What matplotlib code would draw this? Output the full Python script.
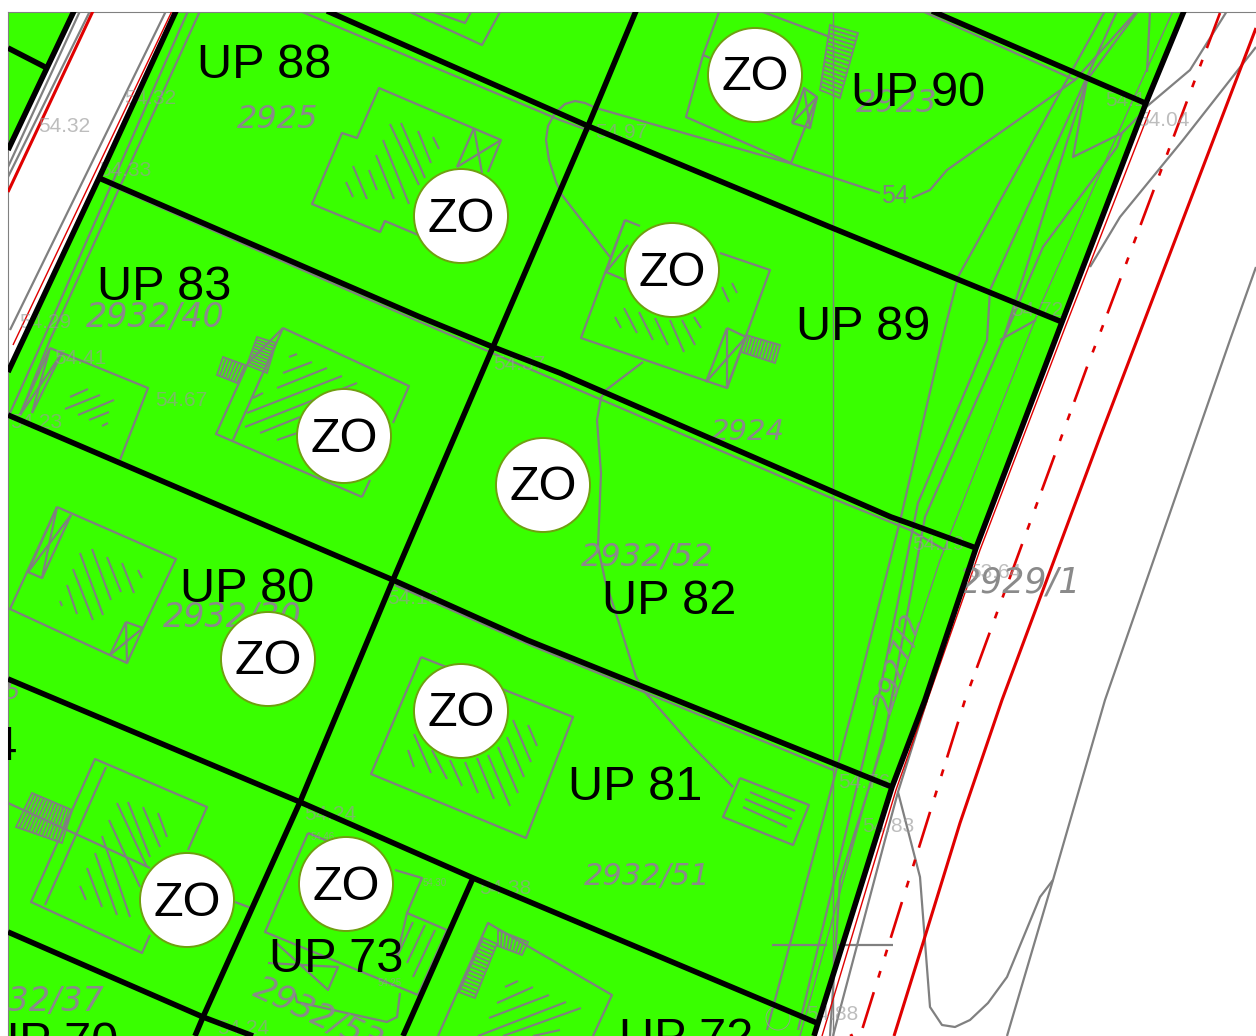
import matplotlib
matplotlib.use("Agg")
import matplotlib.pyplot as plt
from matplotlib.patches import Polygon, Circle

plt.rcParams['lines.scale_dashes'] = False
plt.rcParams['font.family'] = ['Liberation Sans', 'DejaVu Sans']

GREEN = '#39ff00'
RED = '#e00000'
GRAY = '#808080'

green_areas = [
    [(8, 12), (74, 12), (8, 147)],
    [(176, 12), (1184, 12), (1146, 103), (1062, 322), (976, 548), (925, 700), (892, 787), (818, 1023), (814, 1036), (8, 1036), (8, 372)],
]

black_lines = [
    [(74, 11), (8, 150)],
    [(8, 48), (45, 67)],
    [(176, 11), (99, 178), (8, 372)],
    [(1184, 11), (1146, 103), (1062, 322), (976, 548), (925, 700), (892, 787), (818, 1023), (814, 1036)],
    [(327, 11), (588, 126), (830, 227), (1062, 322)],
    [(932, 11), (1145, 103)],
    [(636, 11), (588, 126), (493, 347), (393, 580), (300, 802), (203, 1017), (195, 1036)],
    [(99, 178), (420, 317), (493, 347), (560, 373), (891, 517), (908, 523), (976, 548)],
    [(8, 415), (393, 580), (527, 640), (840, 766), (892, 787)],
    [(8, 679), (300, 802), (473, 878), (817, 1023)],
    [(473, 878), (403, 1036)],
    [(8, 932), (203, 1017), (253, 1036)],
]

red_thin = [
    [(172, 11), (13, 345)],
    [(1150, 110), (1066, 325), (980, 550), (896, 790), (822, 1036)],
]
red_solid = [
    [(93, 11), (8, 192)],
    [(1256, 28), (1137, 340), (1100, 437), (1002, 700), (960, 823), (923, 943), (894, 1036)],
]
red_dashdot = [(1220, 13), (1102, 328), (1087, 367), (965, 700), (862, 1030), (850, 1036)]

road_gray = [
    [(80, 11), (8, 167)],
    [(90, 11), (8, 177)],
    [(166, 11), (10, 330)],
    [(1227, 11), (1190, 70), (1145, 108)],
    [(1256, 47), (1183, 140), (1120, 217), (1090, 267)],
    [(1256, 267), (1230, 340), (1105, 700), (1053, 880), (1007, 1036)],
    [(898, 792), (920, 877), (930, 1007), (942, 1025), (955, 1027), (970, 1020), (988, 1003), (1007, 977), (1040, 897), (1053, 880)],
    [(927, 700), (898, 792), (885, 840), (833, 1036)],
    [(772, 945), (827, 945)],
    [(838, 945), (893, 945)],
]

contours = [
    [(1105, 11), (958, 277), (942, 340), (901, 517), (855, 700), (767, 1030)],
    [(1117, 11), (990, 290), (987, 340), (918, 503), (878, 700), (798, 1030)],
    [(1138, 11), (1087, 80), (1003, 340), (925, 517), (884, 740), (840, 880), (830, 1036)],
    [(1150, 11), (1147, 72)],
    [(1087, 80), (1073, 157), (1122, 133), (1117, 147), (1043, 247), (1003, 340)],
    [(1137, 11), (1075, 80), (947, 170), (930, 190), (912, 198)],
    [(1145, 110), (1122, 133)],
    [(596, 108), (789, 163), (880, 193)],
    [(610, 257), (562, 195), (556, 182), (549, 160), (546, 140), (548, 126), (555, 113), (565, 104), (575, 101), (585, 103), (596, 108)],
    [(643, 362), (606, 390), (601, 398), (597, 420), (601, 473), (598, 547), (605, 580), (618, 620), (636, 677), (643, 690), (693, 747), (733, 787)],
    [(300, 11), (560, 120), (590, 131)],
    [(922, 11), (1075, 80)],
    [(110, 185), (420, 322), (490, 352), (560, 382), (829, 497), (910, 530), (945, 550)],
    [(395, 585), (530, 645), (833, 770)],
    [(188, 11), (43, 340), (10, 413)],
    [(200, 11), (50, 340), (20, 415)],
    [(1036, 320), (1000, 340)],
]
thin_lines = [
    [(833, 12), (833, 1036)],
    [(1173, 11), (1043, 300), (940, 560), (885, 730), (800, 1036)],
]

buildings = [
    # UP 88
    [(385, 221), (380, 232), (312, 204), (342, 133), (357, 138), (379, 88), (501, 140), (488, 172)],
    [(380, 232), (385, 221), (430, 240)],
    [(474, 128), (457, 167)], [(457, 167), (501, 140)], [(474, 128), (482, 173)],
    # above UP 88
    [(410, 12), (482, 45), (500, 12)], [(434, 12), (465, 23), (471, 12)],
    # UP 90
    [(719, 12), (703, 55), (710, 58)], [(703, 55), (686, 117), (791, 163), (817, 97)],
    [(763, 12), (830, 37)], [(792, 123), (804, 88), (817, 97), (810, 128), (792, 123)],
    [(792, 123), (817, 97)], [(804, 88), (810, 128)],
    # UP 89
    [(625, 220), (605, 273), (581, 338), (727, 388), (770, 270), (720, 253)],
    [(625, 220), (640, 226)], [(606, 272), (625, 280)], [(625, 220), (606, 272)], [(606, 272), (628, 245)],
    [(727, 328), (706, 382)], [(727, 328), (746, 337), (727, 388)], [(727, 328), (727, 388)], [(706, 382), (746, 337)],
    # UP 83 left
    [(50, 348), (148, 388), (120, 460)], [(50, 348), (20, 415)], [(62, 353), (32, 413)],
    [(50, 348), (32, 413)], [(20, 415), (62, 353)],
    # UP 83
    [(283, 328), (409, 386), (393, 423)], [(362, 497), (216, 434), (248, 363), (283, 328)], [(283, 328), (233, 440)],
    [(362, 497), (370, 480)],
    # UP 80
    [(57, 507), (176, 559), (143, 628), (127, 663), (10, 609), (57, 507)],
    [(57, 507), (28, 572), (42, 578), (71, 515)], [(57, 507), (42, 578)], [(28, 572), (71, 515)],
    [(126, 622), (143, 628)], [(126, 622), (110, 655)], [(126, 622), (127, 663)], [(110, 655), (143, 628)],
    # UP 81
    [(421, 657), (573, 717), (526, 838), (371, 774), (421, 657)],
    [(740, 778), (809, 805), (793, 845), (723, 817), (740, 778)],
    # bottom-left
    [(188, 850), (207, 807), (95, 759), (31, 902), (142, 953), (150, 935)],
    [(106, 767), (45, 905)], [(8, 803), (150, 868)], [(235, 902), (251, 908)],
    # UP 73
    [(308, 833), (265, 932), (418, 995), (447, 930), (407, 913), (397, 957)],
    [(308, 833), (330, 842)], [(395, 870), (422, 878), (407, 913)],
    [(273, 940), (328, 990), (338, 967), (268, 963)],
    [(295, 993), (297, 1002), (387, 1022), (397, 1017), (400, 993)],
    # UP 72
    [(438, 1036), (488, 923), (612, 995), (593, 1036)],
]

hatching = [
    [(346, 182), (353, 197)], [(353, 166), (367, 199)], [(369, 170), (377, 190)], [(376, 155), (394, 199)],
    [(383, 140), (409, 204)], [(390, 124), (419, 185)], [(401, 123), (425, 178)], [(418, 131), (431, 163)], [(433, 137), (439, 149)],
    [(615, 317), (621, 328)], [(624, 308), (637, 333)], [(639, 312), (653, 340)], [(655, 318), (668, 345)],
    [(670, 320), (684, 352)], [(682, 320), (695, 345)], [(694, 317), (701, 328)], [(722, 287), (729, 302)], [(732, 283), (737, 293)],
    [(70, 397), (88, 389)], [(65, 409), (100, 395)], [(78, 415), (114, 400)], [(89, 420), (109, 412)], [(102, 426), (108, 423)],
    [(289, 357), (297, 354)], [(283, 373), (312, 362)], [(277, 388), (327, 368)], [(247, 413), (342, 376)],
    [(245, 427), (357, 383)], [(260, 433), (300, 417)], [(277, 440), (300, 432)], [(253, 398), (263, 393)],
    [(60, 601), (62, 606)], [(67, 585), (77, 614)], [(73, 569), (93, 620)], [(80, 553), (103, 615)],
    [(92, 549), (111, 600)], [(107, 557), (121, 592)], [(122, 563), (134, 593)], [(138, 570), (142, 578)],
    [(408, 750), (414, 767)], [(414, 734), (431, 773)], [(432, 750), (447, 779)], [(450, 760), (462, 786)],
    [(465, 762), (478, 793)], [(477, 758), (494, 799)], [(488, 755), (510, 806)], [(498, 747), (518, 793)],
    [(507, 737), (524, 777)], [(513, 720), (531, 762)], [(528, 725), (537, 746)],
    [(750, 792), (795, 811)], [(745, 799), (792, 819)], [(743, 807), (787, 827)],
    [(80, 886), (86, 900)], [(87, 868), (102, 907)], [(95, 853), (117, 915)], [(102, 836), (130, 917)],
    [(109, 820), (140, 887)], [(117, 803), (147, 867)], [(128, 802), (150, 857)], [(143, 807), (160, 847)], [(158, 813), (167, 837)],
    [(397, 957), (413, 922)], [(407, 963), (425, 925)], [(413, 977), (435, 930)],
    [(505, 987), (518, 981)], [(497, 1003), (533, 987)], [(489, 1018), (549, 995)], [(478, 1036), (566, 1002)],
    [(503, 1036), (581, 1008)], [(533, 1036), (560, 1030)],
]

# corners and rung count of each hatched staircase; rungs run parallel to the first side
stairs = [
    ([(830, 25), (858, 33), (840, 98), (820, 90)], 16),
    ([(746, 335), (741, 352), (775, 363), (780, 345)], 11),
    ([(257, 337), (276, 343), (267, 373), (247, 365)], 10),
    ([(223, 357), (217, 375), (237, 383), (245, 365)], 7),
    ([(32, 793), (16, 827), (62, 843), (72, 810)], 14),
    ([(498, 930), (498, 946), (522, 955), (528, 942)], 8),
    ([(483, 938), (497, 944), (475, 998), (459, 992)], 15),
]

zo_centers = [(755, 75), (461, 216), (672, 270), (344, 436), (543, 485), (268, 659), (461, 711), (346, 884), (187, 900)]
zo_radius = 47

up_labels = [
    ('UP 88', 264, 66), ('UP 90', 918, 93), ('UP 83', 164, 287), ('UP 89', 863, 328),
    ('UP 80', 247, 589), ('UP 82', 669, 602), ('UP 81', 635, 788), ('UP 73', 336, 959),
    ('UP 72', 686, 1039), ('UP 70', 51, 1044), ('UP 74', -50, 748),
]
parcel_labels = [
    ('2925', 278, 120, 0, 23), ('2923', 897, 104, 0, 23), ('2932/40', 155, 317, 0, 24),
    ('2924', 748, 432, 0, 21), ('2932/52', 647, 557, 0, 23), ('2929/1', 1020, 582, 0, 25),
    ('2927/2', 899, 663, 72, 21), ('2932/51', 647, 876, 0, 22), ('2932/37', 35, 1001, 0, 24),
    ('2932/30', 232, 617, 0, 24), ('2932/53', 318, 1016, -25, 24), ('5', 12, 692, 0, 17),
]
spot_labels = [
    ('54.32', 64, 127, 15), ('54.32', 150, 98, 15), ('54.33', 125, 171, 15), ('54.29', 45, 322, 15),
    ('54.41', 80, 358, 15), ('54.67', 181, 400, 15), ('54.23', 36, 423, 15), ('54.37', 519, 365, 15),
    ('54.97', 621, 132, 15), ('54.1', 1125, 100, 15), ('54.04', 1163, 120, 15), ('54.72', 1037, 311, 15),
    ('54.16', 413, 598, 15), ('54.24', 330, 814, 15), ('54.38', 505, 888, 15), ('54.30', 435, 883, 7),
    ('54.24', 243, 1028, 15), ('54.83', 888, 827, 15), ('54.76', 864, 782, 15), ('54.88', 832, 1015, 15),
    ('54.19', 938, 545, 15), ('53.64', 995, 572, 15), ('54.46', 323, 837, 7), ('54.25', 390, 983, 7),
]

W, H = 1256, 1036
fig = plt.figure(figsize=(W / 100, H / 100), dpi=100, facecolor='white')
ax = fig.add_axes([8 / W, 0, (W - 8) / W, (H - 12) / H])
ax.set_xlim(8, W)
ax.set_ylim(H, 12)
ax.set_xticks([])
ax.set_yticks([])
for side in ('right', 'bottom'):
    ax.spines[side].set_visible(False)
for side in ('left', 'top'):
    ax.spines[side].set_color('#808080')
    ax.spines[side].set_linewidth(0.8)


def draw(line, color=GRAY, lw=1.6, z=2, **kw):
    xs, ys = zip(*line)
    ax.plot(xs, ys, color=color, lw=lw, zorder=z, solid_capstyle='butt', **kw)


for area in green_areas:
    ax.add_patch(Polygon(area, closed=True, fc=GREEN, ec='none', zorder=1))
for line in thin_lines:
    draw(line, lw=1.0)
for line in contours + buildings + road_gray:
    draw(line, lw=1.6)
for line in hatching:
    draw(line, lw=1.5)
for corners, n in stairs:
    ax.add_patch(Polygon(corners, closed=True, fc='none', ec=GRAY, lw=1.3, zorder=2))
    (a, b, c, d) = corners
    for i in range(1, n):
        t = i / n
        draw([(a[0] + (d[0] - a[0]) * t, a[1] + (d[1] - a[1]) * t),
              (b[0] + (c[0] - b[0]) * t, b[1] + (c[1] - b[1]) * t)], lw=1.3)

for line in red_thin:
    draw(line, color=RED, lw=1.0, z=3)
for line in red_solid:
    draw(line, color=RED, lw=2.2, z=3)
xs, ys = zip(*red_dashdot)
ax.plot(xs, ys, color=RED, lw=1.9, zorder=3, dash_capstyle='butt',
        linestyle=(0, (27, 9, 5, 11, 5, 11)))
for line in black_lines:
    draw(line, color='black', lw=4.0, z=4)

for label, x, y, rot, size in parcel_labels:
    ax.text(x, y, label, color='#8a8a8a', fontsize=size, family='DejaVu Sans', style='oblique', rotation=rot,
            ha='center', va='center', zorder=3, clip_on=True, rotation_mode='anchor')
ax.text(895, 196, '54', color=GRAY, fontsize=18, ha='center', va='center', zorder=3, clip_on=True)
for label, x, y, size in spot_labels:
    ax.text(x, y, label, color='#9a9a9a', alpha=0.65, fontsize=size, fontweight='light',
            ha='center', va='center', zorder=3, clip_on=True)
ax.add_patch(Circle((778, 1018), 12, fc='none', ec='#9a9a9a', lw=0.6, zorder=3))

for cx, cy in zo_centers:
    ax.add_patch(Circle((cx, cy), zo_radius, fc='white', ec='#6f9f10', lw=1.4, zorder=5))
    ax.text(cx, cy + 3, 'ZO', color='black', fontsize=35, ha='center', va='center', zorder=6)
for label, x, y in up_labels:
    ax.text(x, y, label, color='black', fontsize=35, ha='center', va='center', zorder=6, clip_on=True)

fig.savefig('out.png', dpi=100, facecolor='white')
